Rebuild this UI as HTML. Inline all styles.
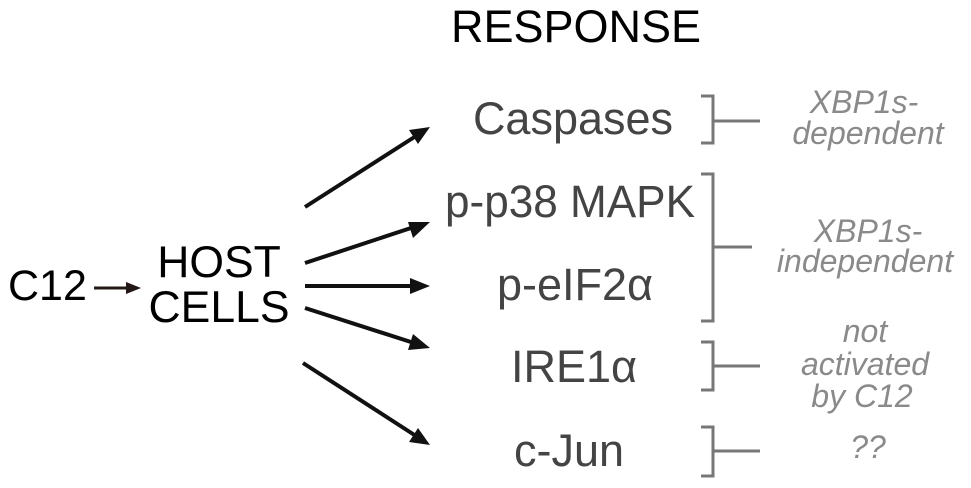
<!DOCTYPE html>
<html><head><meta charset="utf-8"><style>
html,body{margin:0;padding:0;background:#fff;}
svg{display:block;}
text{font-family:"Liberation Sans",sans-serif;}
.g{fill:#444;font-size:45px;}
.i{fill:#8a8a8a;font-size:32px;font-style:italic;}
</style></head><body>
<svg width="971" height="488" viewBox="0 0 971 488" xmlns="http://www.w3.org/2000/svg">
<text x="576" y="42" text-anchor="middle" font-size="45" fill="#000">RESPONSE</text>
<text x="8" y="300" font-size="43" fill="#000">C12</text>
<text x="219" y="277" text-anchor="middle" font-size="44.5" fill="#000">HOST</text>
<text x="219" y="322" text-anchor="middle" font-size="44.5" fill="#000">CELLS</text>
<line x1="94" y1="288" x2="128" y2="288" stroke="#231815" stroke-width="3"/>
<polygon points="141,288 126,282 126,294" fill="#231815"/>
<g stroke="#111" stroke-width="4">
<line x1="305" y1="207" x2="416" y2="136"/>
<line x1="305" y1="263" x2="414" y2="227"/>
<line x1="305" y1="286" x2="414" y2="286"/>
<line x1="305" y1="308" x2="414" y2="343"/>
<line x1="303" y1="363" x2="416" y2="436"/>
</g>
<g fill="#111">
<polygon points="430,127 409,130 418,144"/>
<polygon points="430,222 408,222 413,238"/>
<polygon points="430,286 410,278 410,294"/>
<polygon points="430,348 413,334 408,350"/>
<polygon points="430,445 418,428 409,442"/>
</g>
<text class="g" x="573" y="134" text-anchor="middle">Caspases</text>
<text class="g" x="570" y="217" text-anchor="middle" textLength="250" lengthAdjust="spacingAndGlyphs">p-p38 MAPK</text>
<text class="g" x="575" y="300" text-anchor="middle">p-eIF2α</text>
<text class="g" x="574" y="382" text-anchor="middle">IRE1α</text>
<text class="g" x="569" y="466" text-anchor="middle">c-Jun</text>
<g stroke="#777" stroke-width="3" fill="none">
<polyline points="701,96 713,96 713,143 701,143"/>
<line x1="713" y1="121" x2="760" y2="121"/>
<polyline points="701,174 713,174 713,321 701,321"/>
<line x1="713" y1="247" x2="752" y2="247"/>
<polyline points="701,342 713,342 713,390 701,390"/>
<line x1="713" y1="366" x2="760" y2="366"/>
<polyline points="701,427 713,427 713,476 701,476"/>
<line x1="713" y1="451" x2="760" y2="451"/>
</g>
<g text-anchor="middle">
<text class="i" x="864" y="113">XBP1s-</text>
<text class="i" x="868" y="144">dependent</text>
<text class="i" x="868" y="242">XBP1s-</text>
<text class="i" x="865" y="272">independent</text>
<text class="i" x="865" y="342">not</text>
<text class="i" x="865" y="375">activated</text>
<text class="i" x="862" y="407">by C12</text>
<text class="i" x="868" y="458">??</text>
</g>
</svg>
</body></html>
